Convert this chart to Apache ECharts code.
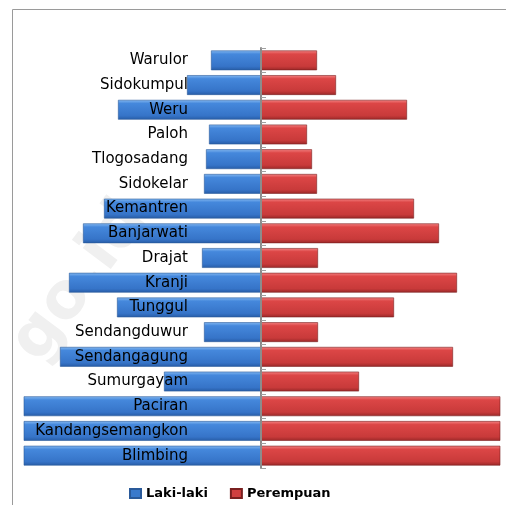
<!DOCTYPE html>
<html>
<head>
<meta charset="utf-8">
<script src="https://cdn.jsdelivr.net/npm/echarts@6/dist/echarts.min.js"></script>
<style>
  html, body { margin: 0; padding: 0; background: #fff; }
  #chart { width: 506px; height: 505px; }
</style>
</head>
<body>
<div id="chart"></div>
<script>
// bottom to top
const desa = ['Blimbing', 'Kandangsemangkon', 'Paciran', 'Sumurgayam', 'Sendangagung',
  'Sendangduwur', 'Tunggul', 'Kranji', 'Drajat', 'Banjarwati', 'Kemantren',
  'Sidokelar', 'Tlogosadang', 'Paloh', 'Weru', 'Sidokumpul', 'Warulor'];
const lakiLaki = [3200, 3500, 3000, 970, 2010, 570, 1440, 1920, 590, 1780, 1570,
  570, 550, 520, 1430, 740, 500];
const perempuan = [3200, 3500, 3000, 980, 1920, 570, 1330, 1960, 570, 1780, 1530,
  560, 510, 460, 1460, 750, 560];

const blueFill = new echarts.graphic.LinearGradient(0, 0, 0, 1, [
  {offset: 0, color: '#86baf2'},
  {offset: 0.18, color: '#4588dc'},
  {offset: 0.8, color: '#3674c8'},
  {offset: 1, color: '#275ca6'}
]);
const redFill = new echarts.graphic.LinearGradient(0, 0, 0, 1, [
  {offset: 0, color: '#f48484'},
  {offset: 0.18, color: '#dc4646'},
  {offset: 0.8, color: '#c83a3a'},
  {offset: 1, color: '#9a2828'}
]);

const chart = echarts.init(document.getElementById('chart'));
chart.setOption({
  animation: false,
  graphic: [
    {
      type: 'rect', left: 10, top: 7, z: -10,
      shape: {width: 600, height: 600},
      style: {fill: 'none', stroke: '#9a9a9a', lineWidth: 1}
    },
    {
      type: 'text', left: 0, top: 190, rotation: Math.PI / 3.4, z: -5,
      style: {text: 'go.id', fill: '#f0f0f0', font: 'bold 64px "DejaVu Sans"'}
    }
  ],
  grid: {left: 24, right: 6, top: 48, bottom: 37, outerBoundsMode: 'same', containLabel: false},
  legend: {
    left: 124,
    top: 482,
    icon: 'rect',
    itemWidth: 11,
    itemHeight: 9,
    itemGap: 22,
    textStyle: {fontFamily: 'DejaVu Sans', fontWeight: 'bold', fontSize: 13, color: '#000'},
    data: [
      {name: 'Laki-laki', itemStyle: {color: '#3a7acc'}},
      {name: 'Perempuan', itemStyle: {color: '#d04040'}}
    ]
  },
  xAxis: {
    type: 'value',
    min: -2370,
    max: 2390,
    show: false
  },
  yAxis: [
    {
      // label column, drawn inside the plot
      type: 'category',
      data: desa,
      position: 'left',
      z: 10,
      axisLine: {show: false, onZero: false},
      axisTick: {show: false},
      axisLabel: {
        inside: true,
        align: 'right',
        interval: 0,
        margin: 164,
        fontFamily: 'DejaVu Sans',
        fontSize: 15,
        color: '#000'
      }
    },
    {
      // centre line with ticks
      type: 'category',
      data: desa,
      z: 10,
      axisLine: {onZero: true, lineStyle: {color: '#8c8c8c', width: 2}},
      axisTick: {show: true, length: 5, lineStyle: {color: '#a0a0a0'}},
      axisLabel: {show: false}
    }
  ],
  series: [
    {
      name: 'Laki-laki',
      type: 'bar',
      stack: 'jumlah',
      barCategoryGap: '20%',
      data: lakiLaki.map(v => -v),
      itemStyle: {color: blueFill, borderColor: '#2a5a9a', borderWidth: 0.6}
    },
    {
      name: 'Perempuan',
      type: 'bar',
      stack: 'jumlah',
      data: perempuan,
      itemStyle: {color: redFill, borderColor: '#7a2020', borderWidth: 0.6}
    }
  ]
});
</script>
</body>
</html>
